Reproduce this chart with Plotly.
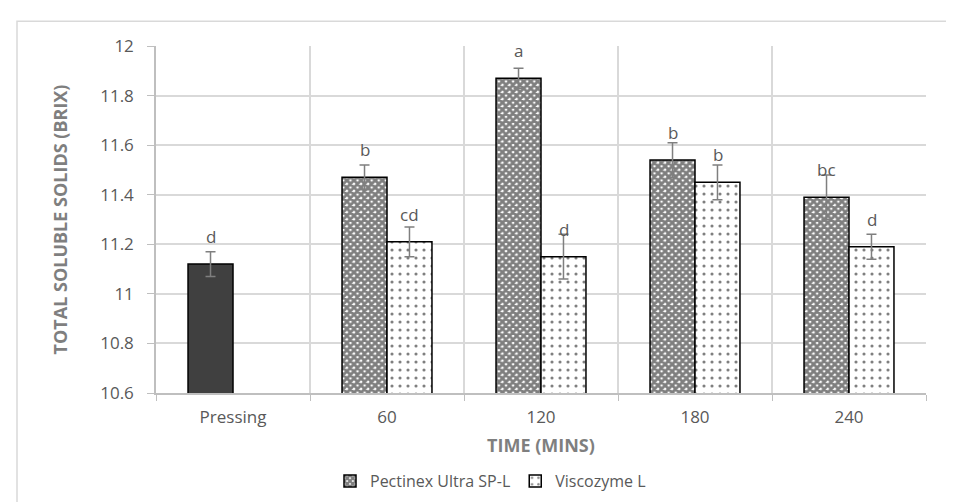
import plotly.graph_objects as go

categories = ["Pressing", "60", "120", "180", "240"]
pressing_value = [11.12]
pressing_err = [0.05]
pressing_label = ["d"]
time_cats = ["60", "120", "180", "240"]
pectinex = [11.47, 11.87, 11.54, 11.39]
pectinex_err = [0.05, 0.04, 0.07, 0.09]
pectinex_labels = ["b", "a", "b", "bc"]
viscozyme = [11.21, 11.15, 11.45, 11.19]
viscozyme_err = [0.06, 0.09, 0.07, 0.05]
viscozyme_labels = ["cd", "d", "b", "d"]
y_ticks = [10.6, 10.8, 11, 11.2, 11.4, 11.6, 11.8, 12]

FONT = "Open Sans"
TICK = "#595959"
ERR = dict(type="data", visible=True, color="#7f7f7f", thickness=1.5, width=5)

fig = go.Figure()
fig.add_trace(go.Bar(
    x=["Pressing"], y=pressing_value, offsetgroup="A", showlegend=False,
    marker=dict(color="#404040", line=dict(color="black", width=1.5)),
    error_y=dict(array=pressing_err, **ERR), name="Pressing"))
fig.add_trace(go.Bar(
    x=time_cats, y=pectinex, offsetgroup="A", name="Pectinex Ultra SP-L",
    marker=dict(color="white", line=dict(color="black", width=1.5),
                pattern=dict(shape="x", fgcolor="black", bgcolor="white", size=5, solidity=0.8)),
    error_y=dict(array=pectinex_err, **ERR)))
fig.add_trace(go.Bar(
    x=time_cats, y=viscozyme, offsetgroup="B", name="Viscozyme L",
    marker=dict(color="white", line=dict(color="black", width=1.5),
                pattern=dict(shape=".", fgcolor="black", bgcolor="white", size=8, solidity=0.12)),
    error_y=dict(array=viscozyme_err, **ERR)))

def add_labels(xs, ys, labels, shift):
    for xv, yv, t in zip(xs, ys, labels):
        fig.add_annotation(x=categories.index(xv), y=yv, text=t, showarrow=False,
                           xref="x", yref="y",
                           xshift=shift, yshift=14, yanchor="bottom",
                           font=dict(family=FONT, size=17, color=TICK))

add_labels(["Pressing"], pressing_value, pressing_label, -22.5)
add_labels(time_cats, pectinex, pectinex_labels, -22.5)
add_labels(time_cats, viscozyme, viscozyme_labels, 22.5)

# outer chart border
fig.add_shape(type="rect", xref="paper", yref="paper",
              x0=(9 - 148) / 770, x1=(952 - 148) / 770,
              y0=-1.0, y1=1 - (13 - 38) / 350,
              line=dict(color="#d9d9d9", width=1.5), fillcolor="rgba(0,0,0,0)", layer="below")

fig.update_layout(
    width=954, height=502,
    margin=dict(l=148, r=36, t=38, b=114),
    plot_bgcolor="white", paper_bgcolor="white",
    barmode="group", bargap=0.416, bargroupgap=0,
    font=dict(family=FONT, size=17, color=TICK),
    xaxis=dict(type="category", categoryorder="array", categoryarray=categories,
               range=[-0.5, 4.5], automargin=False,
               tickson="boundaries", ticks="outside", ticklen=6, tickcolor="#bfbfbf",
               showgrid=True, gridcolor="#d9d9d9", gridwidth=1.5,
               showline=True, linecolor="#bfbfbf", linewidth=1.5,
               tickfont=dict(family=FONT, size=17, color=TICK), tickangle=0,
               ticklabelstandoff=8,
               title=dict(text="<b>TIME (MINS)</b>", standoff=12,
                          font=dict(family=FONT, size=18, color="#7f7f7f"))),
    yaxis=dict(range=[10.6, 12], tickvals=y_ticks, ticktext=[f"{v:g}" for v in y_ticks],
               automargin=False,
               ticks="outside", ticklen=7, tickcolor="#bfbfbf",
               showgrid=True, gridcolor="#d9d9d9", gridwidth=1.5,
               showline=True, linecolor="#bfbfbf", linewidth=1.5, zeroline=False,
               tickfont=dict(family=FONT, size=17, color=TICK),
               ticklabelstandoff=10,
               title=dict(text="<b>TOTAL SOLUBLE SOLIDS (BRIX)</b>", standoff=28,
                          font=dict(family=FONT, size=18, color="#7f7f7f"))),
    legend=dict(orientation="h", x=(322 - 148) / 770, xanchor="left",
                y=-0.254, yanchor="middle",
                font=dict(family=FONT, size=16, color=TICK), itemwidth=30,
                traceorder="normal"),
)

fig.write_html("out.html")
